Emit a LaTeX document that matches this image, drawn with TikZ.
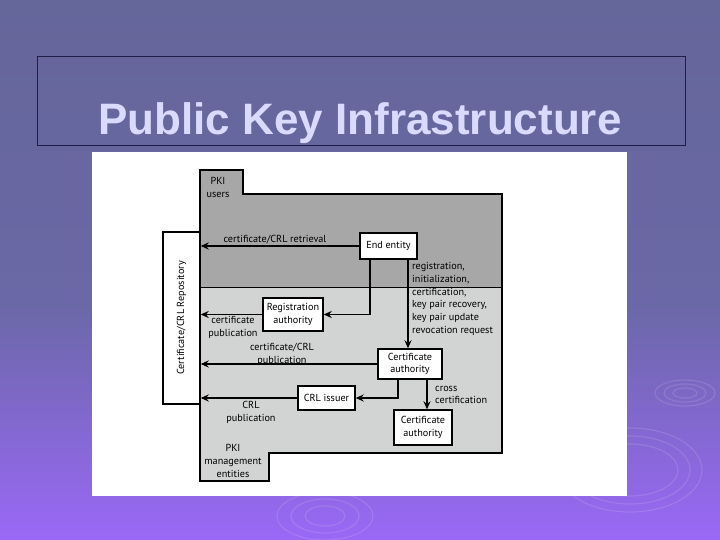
\documentclass[tikz,border=0pt]{standalone}
\usepackage{fontspec}
\setmainfont{PT Sans}
\newfontfamily\titlefont{Liberation Sans}
\usetikzlibrary{arrows.meta}

\definecolor{slidetop}{RGB}{101,102,154}
\definecolor{slidemid}{RGB}{106,104,166}
\definecolor{slidebot}{RGB}{154,104,246}
\definecolor{titletext}{RGB}{218,218,255}
\definecolor{titleline}{RGB}{30,30,70}
\definecolor{usersgray}{RGB}{167,167,167}
\definecolor{mgmtgray}{RGB}{210,211,211}

\begin{document}
\begin{tikzpicture}[x=1pt,y=-1pt,
  font=\fontsize{10.2}{12.8}\selectfont,
  box/.style={draw,fill=white,line width=1.4pt,align=center,inner sep=1pt},
  link/.style={draw,line width=1.6pt,-{Stealth[length=8pt,width=7pt]}},
  lbl/.style={align=center,inner sep=0pt},
  ripple/.style={draw=white,opacity=0.12,line width=1.2pt}]
\useasboundingbox (0,0) rectangle (720,540);
\shade[top color=slidetop,bottom color=slidemid] (0,0) rectangle (720,300.5);
\shade[top color=slidemid,bottom color=slidebot] (0,300) rectangle (720,540);

% ripples
\draw[ripple] (685,393) ellipse [x radius=30,y radius=13];
\draw[ripple] (685,393) ellipse [x radius=21,y radius=9];
\draw[ripple] (685,393) ellipse [x radius=12,y radius=5];
\draw[ripple] (630,470) ellipse [x radius=72,y radius=42];
\draw[ripple] (630,470) ellipse [x radius=60,y radius=34];
\draw[ripple] (630,470) ellipse [x radius=48,y radius=26];
\draw[ripple] (325,516) ellipse [x radius=48,y radius=24];
\draw[ripple] (325,516) ellipse [x radius=34,y radius=17];
\draw[ripple] (325,516) ellipse [x radius=20,y radius=10];

% title
\draw[titleline,line width=0.8pt] (37,56) rectangle (685,145);
\node[font=\titlefont\bfseries\fontsize{44}{48}\selectfont,text=titletext,anchor=base] (title) at (360,135) {Public Key Infrastructure};

% picture area
\fill[white] (92,152) rectangle (627,496);
\fill[mgmtgray] (200,170) -- (243,170) -- (243,194) -- (502,194) -- (502,453) -- (269,453) -- (269,481) -- (200,481) -- cycle;
\fill[usersgray] (200,170) -- (243,170) -- (243,194) -- (502,194) -- (502,287) -- (200,287) -- cycle;
\draw[line width=0.8pt] (200,287) -- (502,287);
\draw[line width=1.5pt] (200,170) -- (243,170) -- (243,194) -- (502,194) -- (502,453) -- (269,453) -- (269,481) -- (200,481) -- cycle;

\node[box,minimum width=37pt,minimum height=172pt] (rep) at (181.5,318) {\rotatebox{90}{Certificate/CRL Repository}};
\node[box,minimum width=57pt,minimum height=26pt] (ee) at (388.5,246) {End entity};
\node[box,minimum width=60pt,minimum height=33pt] (ra) at (293,314.5) {Registration\\authority};
\node[box,minimum width=64pt,minimum height=30pt] (ca1) at (410,364) {Certificate\\authority};
\node[box,minimum width=57pt,minimum height=24pt] (crl) at (326.5,398) {CRL issuer};
\node[box,minimum width=58pt,minimum height=35pt] (ca2) at (423,427.5) {Certificate\\authority};

\node[lbl] (users) at (218,187.5) {PKI\\users};
\node[lbl] (mgmt) at (233,461) {PKI\\management\\entities};
\node[lbl] (retr) at (275,240) {certificate/CRL retrieval};
\node[lbl] (certpub) at (233,327.5) {certificate\\publication};
\node[lbl] (crlcertpub) at (282,354) {certificate/CRL\\publication};
\node[lbl] (crlpub) at (251,412) {CRL\\publication};
\node[lbl,align=left,anchor=north west] (ops) at (412,262) {registration,\\initialization,\\certification,\\key pair recovery,\\key pair update\\revocation request};
\node[lbl,align=left,anchor=west] (cross) at (435,395) {cross\\certification};

\path[link] (ee.west) -- (ee.west -| rep.east);
\path[link] (ra.west) -- (ra.west -| rep.east);
\path[link] (ca1.west) -- (ca1.west -| rep.east);
\path[link] (crl.west) -- (crl.west -| rep.east);
\path[link] ([xshift=-18.5pt]ee.south) |- (ra.east);
\path[link] ([xshift=19.5pt]ee.south) -- ([xshift=19.5pt]ee.south |- ca1.north);
\path[link] ([xshift=-12pt]ca1.south) |- (crl.east);
\path[link] ([xshift=17pt]ca1.south) -- ([xshift=17pt]ca1.south |- ca2.north);
\end{tikzpicture}
\end{document}
